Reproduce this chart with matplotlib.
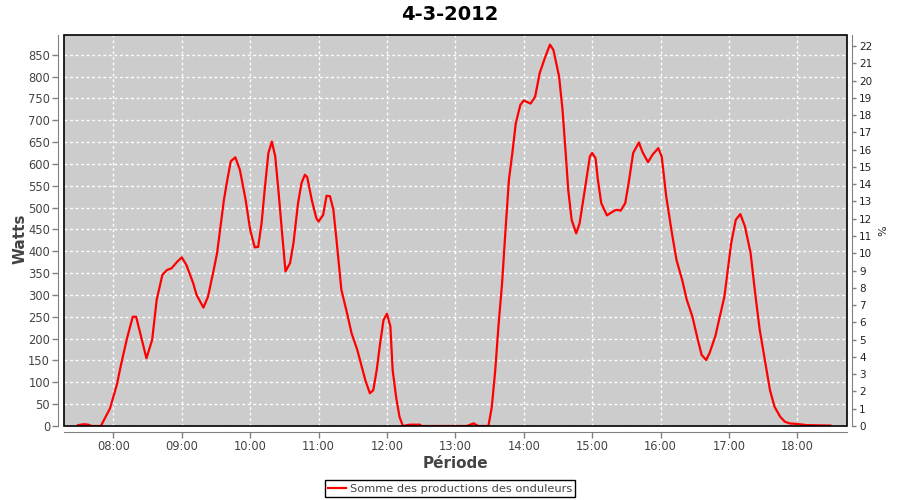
import matplotlib
matplotlib.use("Agg")
import matplotlib.pyplot as plt
from matplotlib.patches import Rectangle
from matplotlib.lines import Line2D

# values (time of day, watts)
times = ["07:29", "07:34", "07:38", "07:41", "07:49", "07:51", "07:57", "08:03", "08:07", "08:12",
         "08:17", "08:20", "08:25", "08:29", "08:34", "08:38", "08:43", "08:47", "08:51", "08:56",
         "09:00", "09:04", "09:10", "09:13", "09:19", "09:23", "09:28", "09:31", "09:34", "09:37",
         "09:40", "09:43", "09:47", "09:51", "09:56", "10:00", "10:04", "10:07", "10:10", "10:13",
         "10:16", "10:19", "10:22", "10:25", "10:28", "10:31", "10:35", "10:38", "10:42", "10:45",
         "10:48", "10:50", "10:54", "10:58", "11:00", "11:04", "11:07", "11:10", "11:13", "11:16",
         "11:20", "11:25", "11:29", "11:34", "11:37", "11:41", "11:45", "11:48", "11:51", "11:54",
         "11:57", "12:00", "12:03", "12:05", "12:08", "12:11", "12:14", "12:20", "12:29", "12:30",
         "13:10", "13:16", "13:20", "13:29", "13:32", "13:35", "13:38", "13:41", "13:44", "13:47",
         "13:50", "13:53", "13:57", "14:00", "14:06", "14:10", "14:14", "14:19", "14:23", "14:26",
         "14:31", "14:34", "14:37", "14:39", "14:42", "14:46", "14:49", "14:54", "14:58", "15:00",
         "15:03", "15:05", "15:08", "15:13", "15:17", "15:21", "15:25", "15:29", "15:32", "15:36",
         "15:41", "15:44", "15:49", "15:53", "15:58", "16:01", "16:05", "16:10", "16:14", "16:19",
         "16:23", "16:28", "16:32", "16:36", "16:40", "16:43", "16:48", "16:52", "16:56", "16:59",
         "17:02", "17:06", "17:10", "17:14", "17:19", "17:23", "17:27", "17:32", "17:36", "17:40",
         "17:45", "17:49", "17:53", "18:02", "18:08", "18:29"]
watts = [2, 4, 3, 0, 0, 10, 40, 94, 144, 201,
         250, 250, 197, 155, 197, 289, 346, 357, 361, 376,
         386, 369, 327, 300, 271, 296, 357, 396, 457, 518,
         564, 606, 615, 586, 518, 449, 409, 410, 464, 548,
         625, 651, 617, 533, 441, 354, 373, 419, 510, 556,
         575, 570, 518, 476, 468, 483, 527, 526, 495, 419,
         312, 258, 212, 174, 144, 105, 75, 82, 128, 189,
         243, 257, 228, 128, 67, 21, 0, 3, 3, 0,
         0, 6, 0, 0, 44, 128, 235, 327, 449, 564,
         625, 693, 735, 745, 738, 754, 808, 846, 873, 861,
         800, 724, 617, 541, 472, 441, 464, 548, 617, 625,
         613, 564, 510, 482, 489, 495, 493, 510, 556, 625,
         649, 628, 604, 621, 636, 617, 525, 441, 380, 334,
         289, 250, 205, 163, 151, 167, 205, 250, 296, 357,
         419, 472, 485, 457, 396, 304, 220, 144, 82, 44,
         21, 10, 6, 4, 2, 1]

hour_ticks = ["08:00", "09:00", "10:00", "11:00", "12:00", "13:00",
              "14:00", "15:00", "16:00", "17:00", "18:00"]
watt_ticks = list(range(0, 851, 50))
pct_ticks = list(range(0, 23))


def to_hours(s):
    h, m = s.split(":")
    return int(h) + int(m) / 60


x = [to_hours(t) for t in times]
xt = [to_hours(t) for t in hour_ticks]

grey = "#444444"
axis_grey = "#808080"

fig = plt.figure(figsize=(9, 5), dpi=100)
ax = fig.add_axes([0.0711, 0.148, 0.8697, 0.782])
ax.set_facecolor("#cccccc")

ax.plot(x, watts, color="red", lw=1.6, zorder=3)

ax.set_xlim(7.278, 18.722)
ax.set_ylim(0, 895)
ax.set_xticks(xt)
ax.set_xticklabels(hour_ticks)
ax.set_yticks(watt_ticks)

ax.grid(True, color="white", linestyle=(0, (2, 2)), linewidth=1)
ax.set_axisbelow(True)

for side in ["top", "right"]:
    ax.spines[side].set_visible(False)
for side in ["left", "bottom"]:
    ax.spines[side].set_position(("outward", 4))
    ax.spines[side].set_color(axis_grey)
ax.tick_params(colors=axis_grey, labelcolor=grey, labelsize=8.3, length=4, width=1, pad=2)

# black outline of the plot area
ax.add_patch(Rectangle((0, 0), 1, 1, transform=ax.transAxes, fill=False,
                       edgecolor="black", lw=1.2, clip_on=False, zorder=5))

ax.set_ylabel("Watts", fontsize=11, fontweight="bold", color=grey)
ax.yaxis.set_label_coords(-0.046, 0.48)
ax.set_xlabel("Période", fontsize=11, fontweight="bold", color=grey, labelpad=2)

ax2 = ax.twinx()
ax2.set_ylim(0, 22.64)
ax2.set_yticks(pct_ticks)
for side in ["top", "left", "bottom"]:
    ax2.spines[side].set_visible(False)
ax2.spines["right"].set_position(("outward", 4))
ax2.spines["right"].set_color(axis_grey)
ax2.tick_params(colors=axis_grey, labelcolor="#222222", labelsize=7.5, length=3, width=1, pad=2)
ax2.set_ylabel("%", fontsize=8, color="#222222", rotation=90, labelpad=4)

fig.suptitle("4-3-2012", fontsize=14, fontweight="bold", y=0.99)

handle = Line2D([], [], color="red", lw=1.6)
leg = fig.legend([handle], ["Somme des productions des onduleurs"], loc="lower center",
                 bbox_to_anchor=(0.5, -0.006), fancybox=False, fontsize=8.2, handlelength=1.6,
                 handletextpad=0.3, borderpad=0.3, framealpha=1)
leg.get_frame().set_edgecolor("black")
for t in leg.get_texts():
    t.set_color(grey)

fig.savefig("out.png", dpi=100)
